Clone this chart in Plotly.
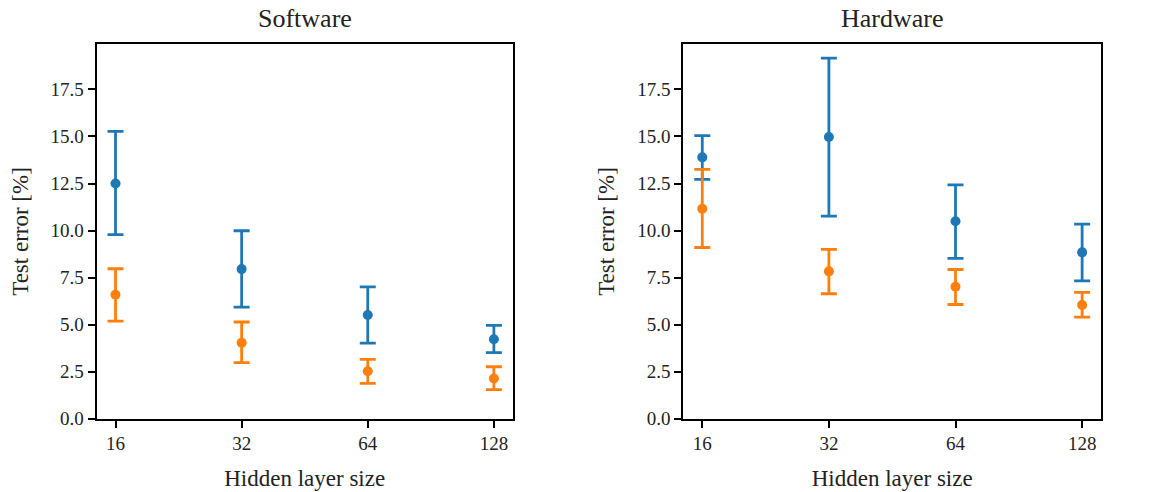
import plotly.graph_objects as go
import math

sizes = [16, 32, 64, 128]
size_labels = ["16", "32", "64", "128"]

# Software
sw_blue = [12.50, 7.95, 5.51, 4.22]
sw_blue_hi = [15.27, 9.99, 7.01, 4.96]
sw_blue_lo = [9.78, 5.93, 4.02, 3.51]
sw_orange = [6.59, 4.04, 2.52, 2.14]
sw_orange_hi = [7.97, 5.14, 3.15, 2.76]
sw_orange_lo = [5.19, 2.98, 1.88, 1.54]

# Hardware
hw_blue = [13.89, 14.97, 10.49, 8.84]
hw_blue_hi = [15.05, 19.16, 12.43, 10.34]
hw_blue_lo = [12.72, 10.77, 8.52, 7.33]
hw_orange = [11.16, 7.83, 7.01, 6.04]
hw_orange_hi = [13.25, 9.00, 7.93, 6.71]
hw_orange_lo = [9.10, 6.64, 6.07, 5.40]

y_ticks = [0, 2.5, 5, 7.5, 10, 12.5, 15, 17.5]
y_tick_text = ["0.0", "2.5", "5.0", "7.5", "10.0", "12.5", "15.0", "17.5"]

BLUE = "#1f77b4"
ORANGE = "#ff7f0e"
FONT = "Liberation Serif"

fig = go.Figure()


def add_series(mid, hi, lo, color, xa, ya):
    fig.add_trace(go.Scatter(
        x=sizes, y=mid, mode="markers", xaxis=xa, yaxis=ya,
        marker=dict(color=color, size=10),
        error_y=dict(type="data", symmetric=False,
                     array=[h - m for h, m in zip(hi, mid)],
                     arrayminus=[m - l for m, l in zip(mid, lo)],
                     color=color, thickness=2.8, width=8),
        showlegend=False))


add_series(sw_blue, sw_blue_hi, sw_blue_lo, BLUE, "x", "y")
add_series(sw_orange, sw_orange_hi, sw_orange_lo, ORANGE, "x", "y")
add_series(hw_blue, hw_blue_hi, hw_blue_lo, BLUE, "x2", "y2")
add_series(hw_orange, hw_orange_hi, hw_orange_lo, ORANGE, "x2", "y2")

xr = [math.log10(16) - 0.045, math.log10(128) + 0.045]
xcommon = dict(type="log", range=xr, tickvals=sizes, ticktext=size_labels,
               automargin=False,
               showgrid=False, zeroline=False, showline=True, linecolor="black",
               linewidth=2, mirror=True, ticks="outside", ticklen=7, tickwidth=2,
               tickcolor="black", tickfont=dict(family=FONT, size=19, color="#222"),
               title=dict(text="Hidden layer size", font=dict(family=FONT, size=23, color="#222"),
                          standoff=16))
ycommon = dict(range=[0, 19.9], tickvals=y_ticks, ticktext=y_tick_text,
               automargin=False,
               showgrid=False, zeroline=False, showline=True, linecolor="black",
               linewidth=2, mirror=True, ticks="outside", ticklen=7, tickwidth=2,
               tickcolor="black", tickfont=dict(family=FONT, size=19, color="#222"),
               title=dict(text="Test error [%]", font=dict(family=FONT, size=23, color="#222"),
                          standoff=16))

fig.update_layout(
    width=1159, height=492,
    margin=dict(l=0, r=0, t=0, b=0, autoexpand=False),
    paper_bgcolor="white", plot_bgcolor="white",
    xaxis=dict(domain=[0.0834, 0.4424], anchor="y", **xcommon),
    yaxis=dict(domain=[0.149, 0.910], anchor="x", **ycommon),
    xaxis2=dict(domain=[0.5896, 0.950], anchor="y2", **xcommon),
    yaxis2=dict(domain=[0.149, 0.910], anchor="x2", **ycommon),
    annotations=[
        dict(text="Software", x=0.263, y=0.963, xref="paper", yref="paper",
             showarrow=False, font=dict(family=FONT, size=26, color="#222"),
             xanchor="center", yanchor="middle"),
        dict(text="Hardware", x=0.770, y=0.963, xref="paper", yref="paper",
             showarrow=False, font=dict(family=FONT, size=26, color="#222"),
             xanchor="center", yanchor="middle"),
    ],
)

fig.write_html("out.html")
